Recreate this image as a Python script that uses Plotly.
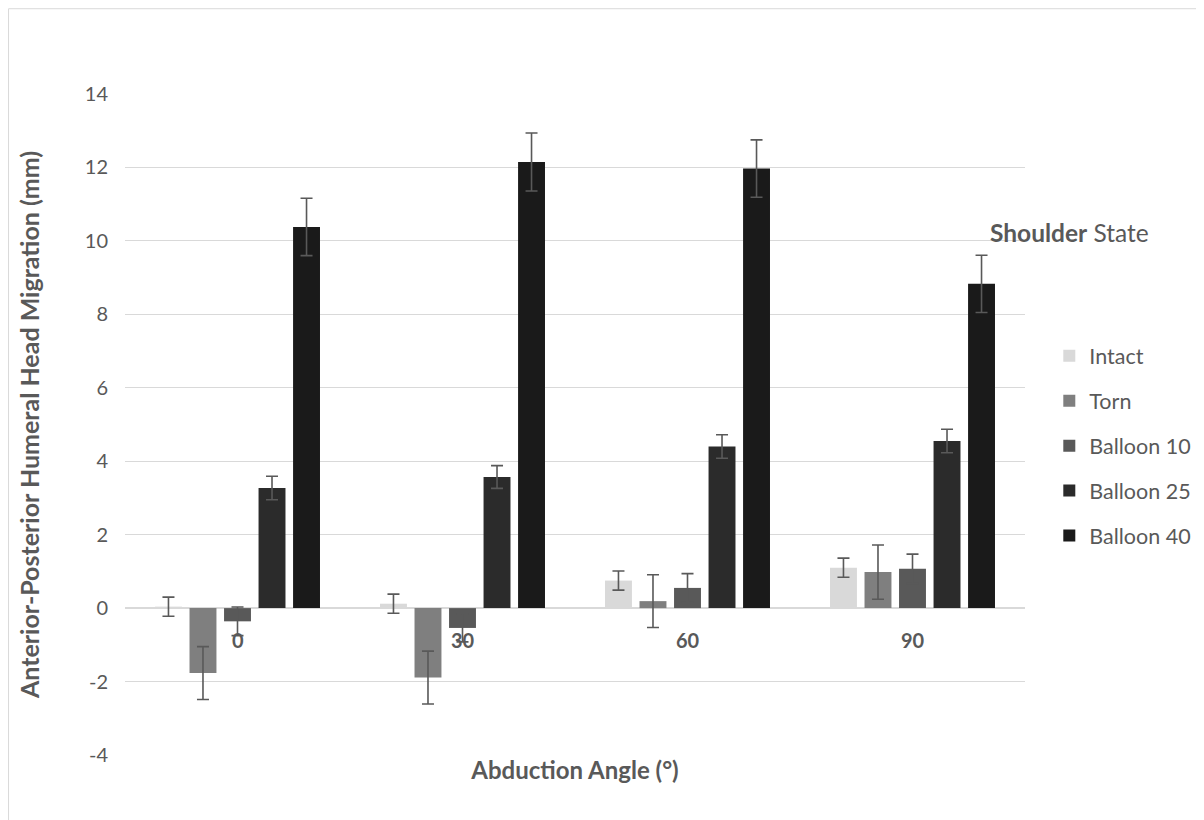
import plotly.graph_objects as go

categories = ["0", "30", "60", "90"]
series_names = ["Intact", "Torn", "Balloon 10", "Balloon 25", "Balloon 40"]
intact = [0.04, 0.12, 0.75, 1.10]
torn = [-1.77, -1.89, 0.19, 0.98]
balloon10 = [-0.36, -0.54, 0.55, 1.07]
balloon25 = [3.27, 3.57, 4.40, 4.55]
balloon40 = [10.38, 12.15, 11.97, 8.83]
intact_err = [0.26, 0.26, 0.26, 0.26]
torn_err = [0.72, 0.72, 0.72, 0.74]
balloon10_err = [0.39, 0.38, 0.39, 0.40]
balloon25_err = [0.32, 0.31, 0.32, 0.32]
balloon40_err = [0.78, 0.79, 0.78, 0.78]
y_ticks = [-4, -2, 0, 2, 4, 6, 8, 10, 12, 14]

values = [intact, torn, balloon10, balloon25, balloon40]
errors = [intact_err, torn_err, balloon10_err, balloon25_err, balloon40_err]
colors = ["#d9d9d9", "#7f7f7f", "#595959", "#2b2b2b", "#1a1a1a"]

FONT = "Lato"
TXT = "#595959"

fig = go.Figure()
for name, vals, errs, col in zip(series_names, values, errors, colors):
    fig.add_trace(go.Bar(
        x=categories, y=vals, name=name, legendgroup=name,
        marker=dict(color=col, line=dict(width=0)),
        error_y=dict(type="data", array=errs, visible=True,
                     color="#595959", thickness=1.6, width=6),
    ))

# category labels sit just under the zero line (axis crosses at 0)
for i, c in enumerate(categories):
    fig.add_annotation(x=i, y=0, xref="x", yref="y", text="<b>%s</b>" % c,
                       showarrow=False, yanchor="middle", yshift=-32,
                       font=dict(family=FONT, size=20, color=TXT))

fig.add_annotation(x=1.049, y=0.791, xref="paper", yref="paper",
                   text="<b>Shoulder</b> State", showarrow=False,
                   xanchor="center", yanchor="middle",
                   font=dict(family=FONT, size=24.5, color=TXT))

fig.add_shape(type="rect", xref="paper", yref="paper",
              x0=-0.1294, y0=-0.5, x1=1.5, y1=1.129,
              line=dict(color="#d9d9d9", width=1), layer="below")

fig.update_layout(
    width=1196, height=812,
    margin=dict(l=117, r=179, t=86, b=65, autoexpand=False),
    paper_bgcolor="white", plot_bgcolor="white",
    barmode="group", bargap=0.233, bargroupgap=0.22,
    font=dict(family=FONT, size=20, color=TXT),
    showlegend=True,
    legend=dict(x=1.027, y=0.635, xanchor="left", yanchor="top",
                traceorder="grouped", tracegroupgap=14,
                font=dict(family=FONT, size=21.5, color=TXT),
                bgcolor="rgba(0,0,0,0)"),
    xaxis=dict(type="category", categoryorder="array", categoryarray=categories,
               range=[-0.5, 3.5],
               showticklabels=False, showgrid=False, showline=False, ticks="",
               title=dict(text="<b>Abduction Angle (°)</b>", standoff=7,
                          font=dict(family=FONT, size=24, color=TXT))),
    yaxis=dict(range=[-4, 14], tickvals=y_ticks, ticktext=[str(t) for t in y_ticks],
               showgrid=True, gridcolor="#d9d9d9", gridwidth=1,
               zeroline=True, zerolinecolor="#d9d9d9", zerolinewidth=1.5,
               showline=False, ticks="", ticklabelstandoff=16,
               tickfont=dict(family=FONT, size=20, color=TXT),
               title=dict(text="<b>Anterior-Posterior Humeral Head Migration (mm)</b>",
                          standoff=38, font=dict(family=FONT, size=25, color=TXT))),
)

fig.write_html("out.html")
